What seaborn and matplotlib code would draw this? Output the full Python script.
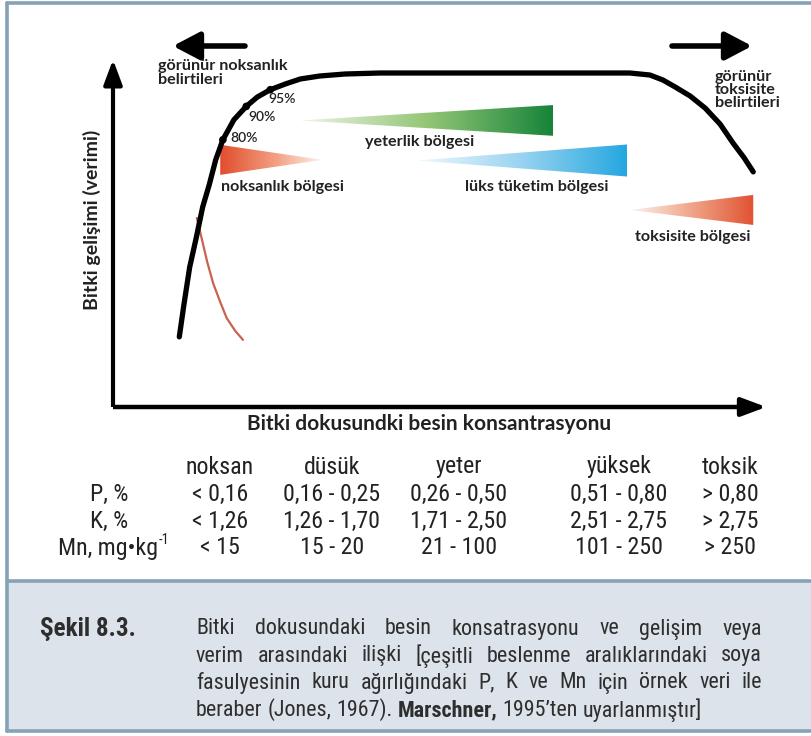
import os
import numpy as np
import pandas as pd
import matplotlib
matplotlib.use("Agg")
import matplotlib.pyplot as plt
import seaborn as sns
from matplotlib import font_manager as fm
from matplotlib.colors import LinearSegmentedColormap
from matplotlib.patches import Polygon, Rectangle
from matplotlib.lines import Line2D

# ---- data -------------------------------------------------------------
# growth response curve: concentration (relative units, 0-100) vs growth (% of max)
curve_conc = [10.2, 10.9, 11.8, 12.8, 13.8, 14.8, 15.8, 16.9, 18.6, 20.5, 22.2,
              24.2, 26.5, 28.8, 31.8, 35.7, 41.1, 79.5, 82.6, 84.6, 86.5, 88.8,
              91.1, 93.4, 95.4, 97.1, 98.5]
curve_growth = [21.0, 30.5, 41.9, 50.6, 59.9, 66.5, 74.0, 80.0, 86.0, 90.0, 92.8,
                95.0, 96.7, 98.2, 99.1, 99.7, 100.0, 100.0, 99.4, 97.9, 95.8, 93.1,
                89.5, 84.7, 79.0, 74.6, 70.4]

# concentration decline branch at the low end
decline_conc = [12.9, 13.7, 14.5, 15.4, 16.5, 17.5, 18.8, 20.0]
decline_growth = [56.6, 50.0, 43.4, 37.1, 31.4, 26.6, 22.8, 20.1]

# marked yield levels on the rising limb
mark_conc = [16.9, 20.5, 24.2]
mark_growth = [80, 90, 95]

# zones: wide end, tip, centre level and half-height (chart units)
zone_names = ["noksanlık bölgesi", "yeterlik bölgesi", "lüks tüketim bölgesi", "toksisite bölgesi"]
zone_wide = [16.5, 67.7, 79.1, 98.5]
zone_tip = [32.2, 28.8, 46.8, 79.5]
zone_level = [74.0, 85.8, 73.8, 59.0]
zone_half = [4.5, 4.6, 4.8, 4.5]

# example ranges for soybean dry matter
table_cols = ["noksan", "düsük", "yeter", "yüksek", "toksik"]
table_rows = ["P, %", "K, %", "Mn, mg•kg"]
p_vals = ["< 0,16", "0,16 - 0,25", "0,26 - 0,50", "0,51 - 0,80", "> 0,80"]
k_vals = ["< 1,26", "1,26 - 1,70", "1,71 - 2,50", "2,51 - 2,75", "> 2,75"]
mn_vals = ["< 15", "15 - 20", "21 - 100", "101 - 250", "> 250"]

caption_lines = [
    "Bitki dokusundaki besin konsatrasyonu ve gelişim veya",
    "verim arasındaki ilişki [çeşitli beslenme aralıklarındaki soya",
    "fasulyesinin kuru ağırlığındaki P, K ve Mn için örnek veri ile",
]
caption_last = [("beraber (Jones, 1967).", False), ("Marschner,", True),
                ("1995’ten uyarlanmıştır]", False)]

# ---- fonts ------------------------------------------------------------
sns.set_theme(style="white")
LABEL_FONT = ["Lato", "DejaVu Sans"]
plt.rcParams["font.family"] = LABEL_FONT


def find_file(names):
    files = {os.path.basename(f.fname): f.fname for f in fm.fontManager.ttflist}
    for n in names:
        if n in files:
            return files[n]
    return None


narrow_regular = find_file(["LiberationSansNarrow-Regular.ttf", "RobotoCondensed-Regular.ttf",
                            "DejaVuSansCondensed.ttf", "Roboto-Regular.ttf",
                            "LiberationSans-Regular.ttf"])
narrow_bold = find_file(["LiberationSansNarrow-Bold.ttf", "RobotoCondensed-Bold.ttf",
                         "DejaVuSansCondensed-Bold.ttf", "Roboto-Bold.ttf",
                         "LiberationSans-Bold.ttf"])


def nfont(size, bold=False):
    path = narrow_bold if bold else narrow_regular
    if path:
        return fm.FontProperties(fname=path, size=size)
    return fm.FontProperties(family="DejaVu Sans", size=size,
                             weight="bold" if bold else "normal")


W, H = 812, 736
fig = plt.figure(figsize=(W / 100, H / 100), dpi=100)
fig.patch.set_facecolor("white")


def fpos(x, y):
    """pixel position -> figure fraction"""
    return x / W, 1 - y / H


# chart axes spanning the figure: origin of the plot at pixel (113, 407)
X0, Y0, SX, SY = 113, 407, 6.5, 3.34
ax = fig.add_axes([0, 0, 1, 1])

# caption panel and frame
frame_c = "#86a2b6"
fig.add_artist(Rectangle(fpos(7, 731), (W - 7) / W, (731 - 581) / H,
                         transform=fig.transFigure, facecolor="#dde3ea",
                         edgecolor="none", zorder=0))
for xs, ys in [((7, 7), (3, 731)), ((7, W), (3, 3)), ((7, W), (581, 581)),
               ((7, W), (731, 731))]:
    fig.add_artist(Line2D([x / W for x in xs], [1 - y / H for y in ys],
                          transform=fig.transFigure, color=frame_c, lw=2.6))

# gradient zone wedges
zone_colors = [
    [(0, "#fdf3ee"), (0.45, "#f3a184"), (1, "#e14d2c")],
    [(0, "#eef5e6"), (0.5, "#94c676"), (1, "#17843a")],
    [(0, "#f0f8fd"), (0.5, "#98d3f1"), (1, "#25a7e0")],
    [(0, "#fdf3ee"), (0.5, "#f0a488"), (1, "#e15232")],
]
for wide, tip, lev, half, cols in zip(zone_wide, zone_tip, zone_level, zone_half, zone_colors):
    grad = np.linspace(0, 1, 256).reshape(1, -1)
    if wide < tip:
        grad = grad[:, ::-1]
    cmap = LinearSegmentedColormap.from_list("z", cols)
    im = ax.imshow(grad, extent=[min(wide, tip), max(wide, tip), lev - half, lev + half],
                   cmap=cmap, aspect="auto", origin="lower", zorder=1, interpolation="bilinear")
    tri = Polygon([[wide, lev - half], [wide, lev + half], [tip, lev]], closed=True,
                  transform=ax.transData)
    im.set_clip_path(tri)

# response curve and decline branch
df_curve = pd.DataFrame({"conc": curve_conc, "growth": curve_growth})
df_decl = pd.DataFrame({"conc": decline_conc, "growth": decline_growth})
df_mark = pd.DataFrame({"conc": mark_conc, "growth": mark_growth})
sns.lineplot(data=df_decl, x="conc", y="growth", ax=ax, color="#c9624f", lw=1.6,
             sort=False, estimator=None, zorder=3)
sns.lineplot(data=df_curve, x="conc", y="growth", ax=ax, color="black", lw=3.8,
             sort=False, estimator=None, zorder=4, solid_capstyle="round",
             solid_joinstyle="round")
sns.scatterplot(data=df_mark, x="conc", y="growth", ax=ax, color="black", s=30,
                edgecolor="none", zorder=5, legend=False)
ax.set_xlim(-X0 / SX, (W - X0) / SX)
ax.set_ylim((Y0 - H) / SY, Y0 / SY)
ax.set_axis_off()

# axes with arrow heads
ax.plot([0, 0], [0, 99], color="black", lw=3.0, solid_capstyle="butt", zorder=4)
ax.plot([0, 98], [0, 0], color="black", lw=3.2, solid_capstyle="butt", zorder=4)
ax.annotate("", xy=(0, 104), xytext=(0, 96),
            arrowprops=dict(arrowstyle="-|>,head_width=0.28,head_length=0.75",
                            mutation_scale=20, color="black", lw=3.0, shrinkA=0, shrinkB=0))
ax.annotate("", xy=(100.5, 0), xytext=(96, 0),
            arrowprops=dict(arrowstyle="-|>,head_width=0.28,head_length=0.75",
                            mutation_scale=20, color="black", lw=3.2, shrinkA=0, shrinkB=0))

# symptom arrows
for tail, tip in [((245, 46), (173, 46)), ((672, 46), (752, 46))]:
    ax.annotate("", xy=((tip[0] - X0) / SX, (Y0 - tip[1]) / SY),
                xytext=((tail[0] - X0) / SX, (Y0 - tail[1]) / SY),
                arrowprops=dict(arrowstyle="-|>,head_width=0.5,head_length=0.95",
                                mutation_scale=17, color="black", lw=4.0,
                                shrinkA=0, shrinkB=0))

txt_c = "#222222"
lab_kw = dict(fontsize=11.6, fontweight="bold", color=txt_c, family=LABEL_FONT)
fig.text(*fpos(158, 73), "görünür noksanlık\nbelirtileri", ha="left", va="center",
         linespacing=0.92, **lab_kw)
fig.text(*fpos(715, 90), "görünür\ntoksisite\nbelirtileri", ha="left", va="center",
         linespacing=0.92, **lab_kw)
for (x, y), s in zip([(230, 138), (248, 117), (268, 99)], ["80%", "90%", "95%"]):
    fig.text(*fpos(x, y), s, ha="left", va="center", fontsize=10, color=txt_c,
             fontweight="semibold", family=LABEL_FONT)
for (x, y), s in zip([(221, 187), (365, 142), (465, 187), (635, 237)], zone_names):
    fig.text(*fpos(x, y), s, ha="left", va="center", **lab_kw)

fig.text(*fpos(429, 424), "Bitki dokusundki besin konsantrasyonu", ha="center",
         va="center", fontsize=15, fontweight="bold", color=txt_c, family=LABEL_FONT)
fig.text(*fpos(92, 220), "Bitki gelişimi (verimi)", ha="center", va="center",
         rotation=90, fontsize=14, fontweight="bold", color=txt_c, family=LABEL_FONT)

fig.canvas.draw()
rend = fig.canvas.get_renderer()


def text_w(t):
    return t.get_window_extent(rend).width


def sized(text, width, bold=False, base=15.0):
    """font size that gives the text the wanted pixel width"""
    p = fig.text(0, 0, text, fontproperties=nfont(base, bold))
    w = text_w(p)
    p.remove()
    return base * width / w


# range table: size chosen so "0,16 - 0,25" is about 97 px wide
tab_size = sized("0,16 - 0,25", 97)
col_x = [220, 332, 459, 619, 730]
row_y = [494, 521, 548]
tab_kw = dict(color=txt_c, ha="center", va="center")
for x, c in zip(col_x, table_cols):
    fig.text(*fpos(x, 467), c, fontproperties=nfont(tab_size), **tab_kw)
for y, lab, vals in zip(row_y, table_rows, [p_vals, k_vals, mn_vals]):
    if lab.startswith("Mn"):
        fig.text(*fpos(158, y), lab, fontproperties=nfont(tab_size), color=txt_c,
                 ha="right", va="center")
        fig.text(*fpos(159, y - 8), "-1", fontproperties=nfont(tab_size * 0.6),
                 color=txt_c, ha="left", va="center")
    else:
        fig.text(*fpos(109, y), lab, fontproperties=nfont(tab_size), **tab_kw)
    for x, v in zip(col_x, vals):
        fig.text(*fpos(x, y), v, fontproperties=nfont(tab_size), **tab_kw)

# caption text
LEFT, RIGHT = 196, 762
cap_size = sized(caption_lines[1], 515)
cap_c = "#2e2e2e"
fig.text(*fpos(40, 629), "Şekil 8.3.", fontproperties=nfont(sized("Şekil 8.3.", 96, True), True),
         ha="left", va="center", color=cap_c)
line_y = [629, 656, 683, 710]
for y, line in zip(line_y, caption_lines):
    words = line.split(" ")
    objs = [fig.text(*fpos(LEFT, y), w, ha="left", va="center", color=cap_c,
                     fontproperties=nfont(cap_size)) for w in words]
    widths = [text_w(o) for o in objs]
    gap = (RIGHT - LEFT - sum(widths)) / (len(words) - 1)
    x = LEFT
    for o, w in zip(objs, widths):
        o.set_position(fpos(x, y))
        x += w + gap

pa = fig.text(0, 0, "a a", fontproperties=nfont(cap_size))
pb = fig.text(0, 0, "aa", fontproperties=nfont(cap_size))
space_w = text_w(pa) - text_w(pb)
pa.remove()
pb.remove()
x = LEFT
for chunk, bold in caption_last:
    for w in chunk.split(" "):
        o = fig.text(*fpos(x, line_y[3]), w, ha="left", va="center", color=cap_c,
                     fontproperties=nfont(cap_size, bold))
        x += text_w(o) + space_w

fig.savefig("out.png", dpi=100, facecolor="white")
